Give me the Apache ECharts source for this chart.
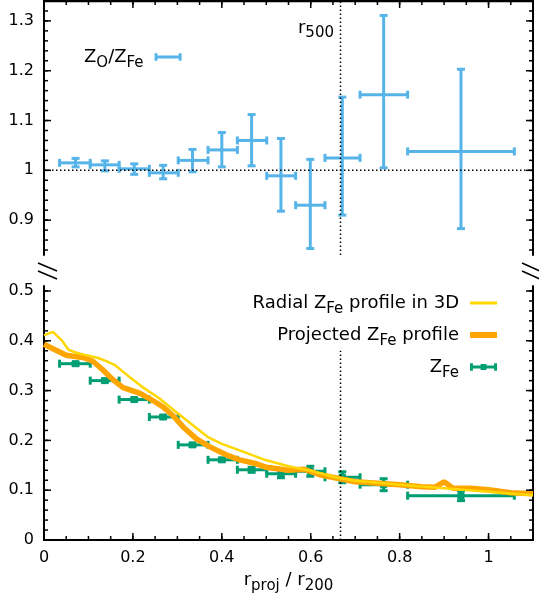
<!DOCTYPE html>
<html>
<head>
<meta charset="utf-8">
<script src="https://cdn.jsdelivr.net/npm/echarts@6/dist/echarts.min.js"></script>
<style>
  html, body { margin: 0; padding: 0; background: #fff; }
  #chart { width: 539px; height: 602px; }
</style>
</head>
<body>
<div id="chart"></div>
<script>
// radial bins (r_proj / r_200), shared by both panels
const binLo = [0.035, 0.104, 0.169, 0.237, 0.302, 0.369, 0.435, 0.501, 0.566, 0.632, 0.711, 0.818];
const binMid = [0.071, 0.137, 0.203, 0.268, 0.334, 0.400, 0.467, 0.533, 0.599, 0.671, 0.764, 0.938];
const binHi = [0.104, 0.169, 0.237, 0.302, 0.369, 0.435, 0.501, 0.566, 0.632, 0.711, 0.818, 1.058];

// upper panel: Z_O / Z_Fe
const ratioVal = [1.015, 1.011, 1.003, 0.995, 1.020, 1.041, 1.060, 0.989, 0.930, 1.025, 1.152, 1.038];
const ratioLo = [1.007, 0.999, 0.992, 0.983, 0.997, 1.007, 1.009, 0.918, 0.843, 0.910, 1.005, 0.883];
const ratioHi = [1.024, 1.019, 1.013, 1.010, 1.042, 1.076, 1.112, 1.064, 1.022, 1.147, 1.311, 1.203];

// lower panel: Z_Fe measured
const feVal = [0.354, 0.320, 0.282, 0.247, 0.191, 0.161, 0.141, 0.133, 0.138, 0.126, 0.111, 0.089];
const feErr = [0.003, 0.003, 0.003, 0.003, 0.003, 0.003, 0.005, 0.008, 0.010, 0.011, 0.012, 0.010];

// simulated profiles
const radialX = [0, 0.02, 0.04, 0.055, 0.07, 0.09, 0.12, 0.14, 0.16, 0.19, 0.22, 0.26, 0.30, 0.34, 0.37, 0.40, 0.44, 0.50, 0.55, 0.60, 0.66, 0.70, 0.80, 0.90, 1.00, 1.10];
const radialY = [0.411, 0.418, 0.401, 0.382, 0.377, 0.372, 0.366, 0.359, 0.351, 0.329, 0.308, 0.284, 0.255, 0.227, 0.206, 0.193, 0.180, 0.160, 0.148, 0.139, 0.125, 0.119, 0.111, 0.104, 0.097, 0.090];
const projX = [0, 0.02, 0.05, 0.09, 0.11, 0.133, 0.155, 0.178, 0.215, 0.245, 0.268, 0.29, 0.313, 0.343, 0.373, 0.41, 0.44, 0.478, 0.50, 0.55, 0.585, 0.62, 0.66, 0.70, 0.75, 0.80, 0.85, 0.88, 0.90, 0.92, 0.96, 1.00, 1.05, 1.10];
const projY = [0.393, 0.384, 0.371, 0.366, 0.359, 0.341, 0.322, 0.306, 0.295, 0.280, 0.267, 0.250, 0.227, 0.203, 0.187, 0.171, 0.161, 0.153, 0.146, 0.140, 0.142, 0.131, 0.124, 0.117, 0.114, 0.111, 0.107, 0.106, 0.117, 0.104, 0.104, 0.101, 0.095, 0.093];

const r500 = 0.667;

// tick labels
const xTicks = [0, 0.2, 0.4, 0.6, 0.8, 1];
const topTicks = [0.9, 1, 1.1, 1.2, 1.3];
const bottomTicks = [0, 0.1, 0.2, 0.3, 0.4, 0.5];

function steps (a, b, s) {
    const out = []
    for (let v = a; v <= b + 1e-9; v += s) out.push(Math.round(v * 1000) / 1000)
    return out
}
const xMinor = steps(0.05, 1.05, 0.05)
const topMinor = steps(0.84, 1.32, 0.02)
const bottomMinor = steps(0.02, 0.5, 0.02)

const FONT = 'DejaVu Sans'
const BLACK = '#000'

const rich = {
    m: { fontFamily: FONT, fontSize: 18, color: BLACK },
    s: { fontFamily: FONT, fontSize: 15, color: BLACK, padding: [13, 0, 0, 0] },
    g: { width: 6 }
}
const legendLabels = {
    'ZO/ZFe': '{m|Z}{s|O}{m|/Z}{s|Fe}{g| }',
    'Radial ZFe profile in 3D': '{m|Radial Z}{s|Fe}{m| profile in 3D}{g| }',
    'Projected ZFe profile': '{m|Projected Z}{s|Fe}{m| profile}{g| }',
    'ZFe': '{m|Z}{s|Fe}{g| }'
}

const barIcon = 'path://M0,0h3v8h-3zM25,0h3v8h-3zM0,2.5h28v3h-28z'
const barIconSq = 'path://M0,0h3v8h-3zM25,0h3v8h-3zM0,2.5h28v3h-28zM11,1h6v6h-6z'

function legend (name, icon, pos, h) {
    return Object.assign({
        data: [{ name: name, icon: icon }],
        orient: 'vertical',
        align: 'right',
        padding: 0,
        itemWidth: 27,
        itemHeight: h,
        selectedMode: false,
        formatter: n => legendLabels[n],
        textStyle: { fontFamily: FONT, fontSize: 18, color: BLACK, rich: rich }
    }, pos)
}

function axisX (grid, pos, showLabel) {
    return {
        type: 'value',
        gridIndex: grid,
        position: pos,
        min: 0,
        max: 1.1,
        axisLine: { show: true, onZero: false, lineStyle: { color: BLACK, width: 2 } },
        axisTick: { show: false },
        axisLabel: { show: showLabel, customValues: xTicks, margin: 10, fontFamily: FONT, fontSize: 16, color: BLACK },
        splitLine: { show: false }
    }
}

function axisY (grid, pos, showLabel, min, max, ticks) {
    return {
        type: 'value',
        gridIndex: grid,
        position: pos,
        min: min,
        max: max,
        axisLine: { show: true, onZero: false, lineStyle: { color: BLACK, width: 2 } },
        axisTick: { show: false },
        axisLabel: { show: showLabel, customValues: ticks, margin: 10, fontFamily: FONT, fontSize: 16, color: BLACK },
        splitLine: { show: false }
    }
}

// inward gnuplot-style ticks, placed through the panel's own scales
// onX: ticks along the x edge ('top' or 'bottom'); otherwise on both y edges
function tickSeries (xi, yi, values, ref, onX, edge, len, frameTop) {
    return {
        type: 'custom',
        xAxisIndex: xi,
        yAxisIndex: yi,
        silent: true,
        clip: false,
        z: 5,
        data: values.map(v => onX ? [v, ref] : [ref, v]),
        renderItem: function (params, api) {
            const cs = params.coordSys
            const p = api.coord([api.value(0), api.value(1)])
            const st = { stroke: BLACK, lineWidth: 1.5 }
            const children = []
            if (onX) {
                const y0 = edge === 'top' ? cs.y : cs.y + cs.height
                const y1 = edge === 'top' ? y0 + len : y0 - len
                children.push({ type: 'line', shape: { x1: p[0], y1: y0, x2: p[0], y2: y1 }, style: st })
            } else {
                children.push({ type: 'line', shape: { x1: cs.x, y1: p[1], x2: cs.x + len, y2: p[1] }, style: st })
                children.push({ type: 'line', shape: { x1: cs.x + cs.width, y1: p[1], x2: cs.x + cs.width - len, y2: p[1] }, style: st })
            }
            if (frameTop && params.dataIndex === 0) {
                children.push({ type: 'line', shape: { x1: cs.x - 1, y1: cs.y, x2: cs.x + cs.width + 1, y2: cs.y }, style: { stroke: BLACK, lineWidth: 2.5 } })
            }
            return { type: 'group', children: children }
        }
    }
}

function errorBars (color, square) {
    return function (params, api) {
        const c = api.coord([api.value(0), api.value(1)])
        const l = api.coord([api.value(2), api.value(1)])
        const r = api.coord([api.value(3), api.value(1)])
        const b = api.coord([api.value(0), api.value(4)])
        const t = api.coord([api.value(0), api.value(5)])
        const st = { stroke: color, lineWidth: 3 }
        const children = [
            { type: 'line', shape: { x1: l[0], y1: c[1], x2: r[0], y2: c[1] }, style: st },
            { type: 'line', shape: { x1: c[0], y1: b[1], x2: c[0], y2: t[1] }, style: st },
            { type: 'rect', shape: { x: l[0] - 1.5, y: c[1] - 4, width: 3, height: 8 }, style: { fill: color } },
            { type: 'rect', shape: { x: r[0] - 1.5, y: c[1] - 4, width: 3, height: 8 }, style: { fill: color } },
            { type: 'rect', shape: { x: c[0] - 4, y: b[1] - 1.5, width: 8, height: 3 }, style: { fill: color } },
            { type: 'rect', shape: { x: c[0] - 4, y: t[1] - 1.5, width: 8, height: 3 }, style: { fill: color } }
        ]
        if (square) {
            children.push({ type: 'rect', shape: { x: c[0] - 3.5, y: c[1] - 3.5, width: 7, height: 7 }, style: { fill: color } })
        }
        return { type: 'group', children: children }
    }
}

const ratioData = binMid.map((x, i) => [x, ratioVal[i], binLo[i], binHi[i], ratioLo[i], ratioHi[i]])
const feData = binMid.map((x, i) => [x, feVal[i], binLo[i], binHi[i], feVal[i] - feErr[i], feVal[i] + feErr[i]])
const radialData = radialX.map((x, i) => [x, radialY[i]])
const projData = projX.map((x, i) => [x, projY[i]])

const dotted = { color: BLACK, width: 1.5, type: [1.5, 2.5] }

const options = {
    backgroundColor: '#fff',
    animation: false,
    grid: [
        { left: 44, width: 489, top: 1, height: 254, outerBoundsMode: 'none', containLabel: false },
        { left: 44, width: 489, top: 286, height: 254, outerBoundsMode: 'none', containLabel: false }
    ],
    xAxis: [
        axisX(0, 'top', false),
        Object.assign(axisX(1, 'bottom', true), {
            name: '{m|r}{s|proj}{m| / r}{s|200}',
            nameLocation: 'middle',
            nameGap: 27,
            nameTextStyle: {
                fontFamily: FONT,
                rich: {
                    m: { fontFamily: FONT, fontSize: 18, color: BLACK },
                    s: { fontFamily: FONT, fontSize: 15, color: BLACK, padding: [12, 0, 0, 0] }
                }
            }
        })
    ],
    yAxis: [
        axisY(0, 'left', true, 0.83, 1.34, topTicks),
        axisY(0, 'right', false, 0.83, 1.34, topTicks),
        axisY(1, 'left', true, 0, 0.51, bottomTicks),
        axisY(1, 'right', false, 0, 0.51, bottomTicks)
    ],
    legend: [
        legend('ZO/ZFe', barIcon, { left: 84, top: 48 }, 8),
        legend('Radial ZFe profile in 3D', 'rect', { right: 42, top: 294 }, 3),
        legend('Projected ZFe profile', 'rect', { right: 42, top: 326 }, 6),
        legend('ZFe', barIconSq, { right: 42, top: 358 }, 8)
    ],
    graphic: [
        {
            type: 'text',
            x: 334,
            y: 28,
            style: {
                text: '{m|r}{s|500}',
                align: 'right',
                verticalAlign: 'middle',
                rich: {
                    m: { fontFamily: FONT, fontSize: 18, fill: BLACK },
                    s: { fontFamily: FONT, fontSize: 15, fill: BLACK, padding: [10, 0, 0, 0] }
                }
            }
        },
        // axis break marks
        { type: 'line', shape: { x1: 38, y1: 263, x2: 57, y2: 271 }, style: { stroke: BLACK, lineWidth: 1.5 } },
        { type: 'line', shape: { x1: 38, y1: 271, x2: 57, y2: 279 }, style: { stroke: BLACK, lineWidth: 1.5 } },
        { type: 'line', shape: { x1: 522, y1: 263, x2: 540, y2: 271 }, style: { stroke: BLACK, lineWidth: 1.5 } },
        { type: 'line', shape: { x1: 522, y1: 271, x2: 540, y2: 279 }, style: { stroke: BLACK, lineWidth: 1.5 } }
    ],
    series: [
        // ticks, upper panel
        tickSeries(0, 0, xTicks, 1.1, true, 'top', 7, true),
        tickSeries(0, 0, xMinor, 1.1, true, 'top', 4, false),
        tickSeries(0, 0, topTicks, 0.5, false, null, 7, false),
        tickSeries(0, 0, topMinor, 0.5, false, null, 4, false),
        // ticks, lower panel
        tickSeries(1, 2, xTicks, 0.25, true, 'bottom', 7, false),
        tickSeries(1, 2, xMinor, 0.25, true, 'bottom', 4, false),
        tickSeries(1, 2, bottomTicks, 0.5, false, null, 7, false),
        tickSeries(1, 2, bottomMinor, 0.5, false, null, 4, false),
        {
            type: 'line', xAxisIndex: 0, yAxisIndex: 0, silent: true,
            data: [[0, 1], [1.1, 1]], showSymbol: false, lineStyle: dotted
        },
        {
            type: 'line', xAxisIndex: 0, yAxisIndex: 0, silent: true,
            data: [[r500, 0.83], [r500, 1.34]], showSymbol: false, lineStyle: dotted
        },
        {
            type: 'line', xAxisIndex: 1, yAxisIndex: 2, silent: true,
            data: [[r500, 0], [r500, 0.38]], showSymbol: false, lineStyle: dotted
        },
        {
            name: 'ZO/ZFe',
            type: 'custom',
            xAxisIndex: 0,
            yAxisIndex: 0,
            clip: false,
            itemStyle: { color: '#56B4E9' },
            encode: { x: [0, 2, 3], y: [1, 4, 5] },
            renderItem: errorBars('#56B4E9', false),
            data: ratioData
        },
        {
            name: 'Projected ZFe profile',
            type: 'line',
            xAxisIndex: 1,
            yAxisIndex: 2,
            showSymbol: false,
            itemStyle: { color: '#FFA500' },
            lineStyle: { color: '#FFA500', width: 5.5 },
            data: projData
        },
        {
            name: 'Radial ZFe profile in 3D',
            type: 'line',
            xAxisIndex: 1,
            yAxisIndex: 2,
            showSymbol: false,
            itemStyle: { color: '#FFD700' },
            lineStyle: { color: '#FFD700', width: 2.5 },
            data: radialData
        },
        {
            name: 'ZFe',
            type: 'custom',
            xAxisIndex: 1,
            yAxisIndex: 2,
            clip: false,
            itemStyle: { color: '#009E73' },
            encode: { x: [0, 2, 3], y: [1, 4, 5] },
            renderItem: errorBars('#009E73', true),
            data: feData
        }
    ]
}

const chart = echarts.init(document.getElementById('chart'))
chart.setOption(options)
</script>
</body>
</html>
